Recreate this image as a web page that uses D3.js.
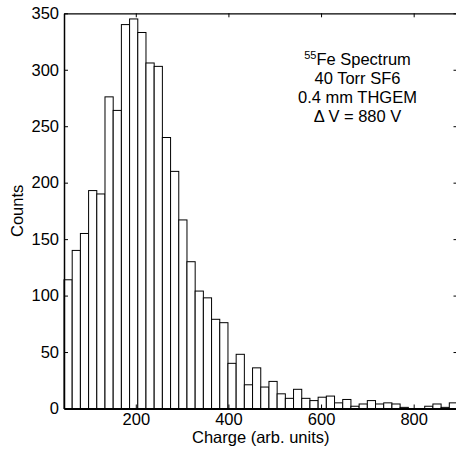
<!DOCTYPE html>
<html>
<head>
<meta charset="utf-8">
<script src="https://cdn.jsdelivr.net/npm/d3@7"></script>
<style>
  html, body { margin: 0; padding: 0; background: #fff; }
  svg { display: block; font-family: "Liberation Sans", Arial, Helvetica, sans-serif; }
</style>
</head>
<body>
<svg id="chart" width="456" height="451"></svg>
<script>
// Histogram bin lower edges (charge, arb. units); last entry closes the final bin
const binEdges = [45, 62.7, 80.4, 98.1, 115.8, 133.5, 151.2, 168.9, 186.6, 204.3,
  222, 239.7, 257.4, 275.1, 292.8, 310.5, 328.2, 345.9, 363.6, 381.3,
  399, 416.7, 434.4, 452.1, 469.8, 487.5, 505.2, 522.9, 540.6, 558.3,
  576, 593.7, 611.4, 629.1, 646.8, 664.5, 682.2, 699.9, 717.6, 735.3,
  753, 770.7, 788.4, 806.1, 823.8, 841.5, 859.2, 876.9, 894.6];

// Counts per bin
const counts = [114, 140, 155, 193, 190, 276, 264, 340, 345, 333,
  306, 303, 240, 210, 167, 130, 104, 98, 79, 76,
  40, 48, 21, 36, 19, 24, 13, 9, 17, 9,
  7, 10, 11, 5, 8, 2, 4, 7, 4, 5,
  4, 1, 0, 0, 2, 4, 1, 5];

const xTicks = [200, 400, 600, 800];
const yTicks = [0, 50, 100, 150, 200, 250, 300, 350];

const annotation = ["Fe Spectrum", "40 Torr SF6", "0.4 mm THGEM", "\u0394 V = 880 V"];

const svg = d3.select("#chart");
const plotLeft = 64, plotRight = 457.5, plotTop = 13.3, plotBottom = 408.5;

const x = d3.scaleLinear().domain([binEdges[0], binEdges[binEdges.length - 1]]).range([plotLeft, plotRight]);
const y = d3.scaleLinear().domain([0, 350]).range([plotBottom, plotTop]);

const bins = counts.map((c, i) => ({ x0: binEdges[i], x1: binEdges[i + 1], n: c }));

// Bars
svg.append("g")
  .selectAll("rect")
  .data(bins)
  .join("rect")
  .attr("x", d => x(d.x0))
  .attr("y", d => y(d.n))
  .attr("width", d => x(d.x1) - x(d.x0))
  .attr("height", d => y(0) - y(d.n))
  .attr("fill", "#fff")
  .attr("stroke", "#000")
  .attr("stroke-width", 1);

const fontSize = 16.5;

function styleAxis(g, w) {
  g.attr("font-family", null).attr("font-size", null);
  g.selectAll(".domain").attr("stroke", "#000").attr("stroke-width", w || 1.3);
  g.selectAll(".tick line").attr("stroke", "#000").attr("stroke-width", 1);
  g.selectAll("text").attr("fill", "#000").style("font-size", fontSize + "px");
}

// Bottom axis with labels
svg.append("g")
  .attr("transform", `translate(0,${plotBottom})`)
  .call(d3.axisBottom(x).tickValues(xTicks).tickSizeInner(-4).tickSizeOuter(0).tickPadding(5))
  .call(styleAxis, 1.8);

// Top axis, ticks only
svg.append("g")
  .attr("transform", `translate(0,${plotTop})`)
  .call(d3.axisTop(x).tickValues(xTicks).tickSizeInner(-4).tickSizeOuter(0).tickFormat(""))
  .call(styleAxis);

// Left axis with labels
svg.append("g")
  .attr("transform", `translate(${plotLeft},0)`)
  .call(d3.axisLeft(y).tickValues(yTicks).tickSizeInner(-4).tickSizeOuter(0).tickPadding(5))
  .call(styleAxis, 1.5);

// Right axis, ticks only
svg.append("g")
  .attr("transform", `translate(${plotRight},0)`)
  .call(d3.axisRight(y).tickValues(yTicks).tickSizeInner(-4).tickSizeOuter(0).tickFormat(""))
  .call(styleAxis);

// Axis titles
svg.append("text")
  .attr("x", (plotLeft + plotRight) / 2)
  .attr("y", 443)
  .attr("text-anchor", "middle")
  .style("font-size", fontSize + "px")
  .text("Charge (arb. units)");

svg.append("text")
  .attr("transform", `translate(23,${(plotTop + plotBottom) / 2}) rotate(-90)`)
  .attr("text-anchor", "middle")
  .style("font-size", fontSize + "px")
  .text("Counts");

// Annotation block
const ann = svg.append("g").attr("text-anchor", "middle").style("font-size", fontSize + "px");
const annX = 357.5, annY0 = 65, annDy = 19;
const first = ann.append("text").attr("x", annX).attr("y", annY0);
first.append("tspan").attr("dy", -6).style("font-size", "11px").text("55");
first.append("tspan").attr("dy", 6).text(annotation[0]);
annotation.slice(1).forEach((t, i) => {
  ann.append("text").attr("x", annX).attr("y", annY0 + annDy * (i + 1)).text(t);
});
</script>
</body>
</html>
